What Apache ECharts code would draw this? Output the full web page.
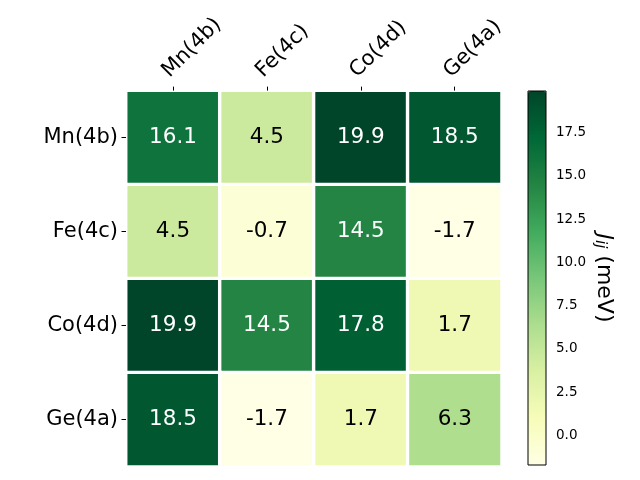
<!DOCTYPE html>
<html>
<head>
<meta charset="utf-8">
<script src="https://cdn.jsdelivr.net/npm/echarts@6/dist/echarts.min.js"></script>
</head>
<body style="margin:0">
<div id="main" style="width:640px;height:480px"></div>
<script>
// sites, matrix of exchange values J_ij (meV)
var sites = ['Mn(4b)', 'Fe(4c)', 'Co(4d)', 'Ge(4a)'];
var rowMn = [16.1, 4.5, 19.9, 18.5];
var rowFe = [4.5, -0.7, 14.5, -1.7];
var rowCo = [19.9, 14.5, 17.8, 1.7];
var rowGe = [18.5, -1.7, 1.7, 6.3];
var cbTicks = [0, 2.5, 5, 7.5, 10, 12.5, 15, 17.5];
var vMin = -1.7, vMax = 19.9;

// matplotlib YlGn
var ylgn = ['#ffffe5', '#f7fcb9', '#d9f0a3', '#addd8e', '#78c679', '#41ab5d', '#238443', '#006837', '#004529'];

var rows = [rowMn, rowFe, rowCo, rowGe];
var data = [];
rows.forEach(function (r, i) {
  r.forEach(function (v, j) {
    data.push({
      value: [j, i, v],
      label: { color: v > (vMin + vMax) / 2 ? '#ffffff' : '#000000' }
    });
  });
});

var font = 'DejaVu Sans';
var chart = echarts.init(document.getElementById('main'));
chart.setOption({
  animation: false,
  textStyle: { fontFamily: font },
  grid: [
    { left: 126, top: 90.6, width: 375.7, height: 376 },
    { left: 528, top: 91, width: 18, height: 374, show: true, borderColor: '#000', borderWidth: 1, backgroundColor: 'transparent', z: 10 }
  ],
  xAxis: [
    {
      type: 'category', data: sites, position: 'top', gridIndex: 0, z: 5,
      axisLine: { show: false },
      axisTick: { show: true, alignWithLabel: true, length: 4, lineStyle: { color: '#000' } },
      axisLabel: { rotate: -45, fontSize: 21, color: '#000', margin: 9, verticalAlign: 'bottom' },
      splitLine: { show: false }
    },
    { type: 'value', gridIndex: 1, show: false }
  ],
  yAxis: [
    {
      type: 'category', data: sites, inverse: true, gridIndex: 0, z: 5,
      axisLine: { show: false },
      axisTick: { show: true, alignWithLabel: true, length: 4.5, lineStyle: { color: '#000' } },
      axisLabel: { fontSize: 21, color: '#000', margin: 8 },
      splitLine: { show: false }
    },
    {
      type: 'value', gridIndex: 1, position: 'right', min: vMin, max: vMax,
      axisLine: { show: false },
      splitLine: { show: false },
      axisTick: { show: true, length: 3.5, customValues: cbTicks, lineStyle: { color: '#000' } },
      axisLabel: {
        fontSize: 13.5, color: '#000', margin: 10, customValues: cbTicks,
        formatter: function (v) { return v.toFixed(1); }
      },
      name: '{j|J}{s|ij} (meV)',
      nameLocation: 'middle',
      nameRotate: -90,
      nameGap: 46,
      nameTextStyle: {
        fontSize: 22, color: '#000',
        rich: {
          j: { fontSize: 22, fontStyle: 'italic', color: '#000' },
          s: { fontSize: 15, fontStyle: 'italic', color: '#000', verticalAlign: 'bottom', padding: [8, 0, 0, 0] }
        }
      }
    }
  ],
  visualMap: {
    type: 'continuous',
    min: vMin, max: vMax,
    seriesIndex: 0,
    calculable: false,
    left: 528, top: 91,
    itemWidth: 18, itemHeight: 374,
    padding: 0,
    text: null,
    showLabel: false,
    inRange: { color: ylgn }
  },
  series: [{
    type: 'heatmap',
    xAxisIndex: 0, yAxisIndex: 0,
    data: data,
    itemStyle: { borderColor: '#fff', borderWidth: 3.4 },
    label: {
      show: true, fontSize: 21.5, fontFamily: font,
      formatter: function (p) { return p.value[2].toFixed(1); }
    },
    emphasis: { disabled: true }
  }]
});
</script>
</body>
</html>
